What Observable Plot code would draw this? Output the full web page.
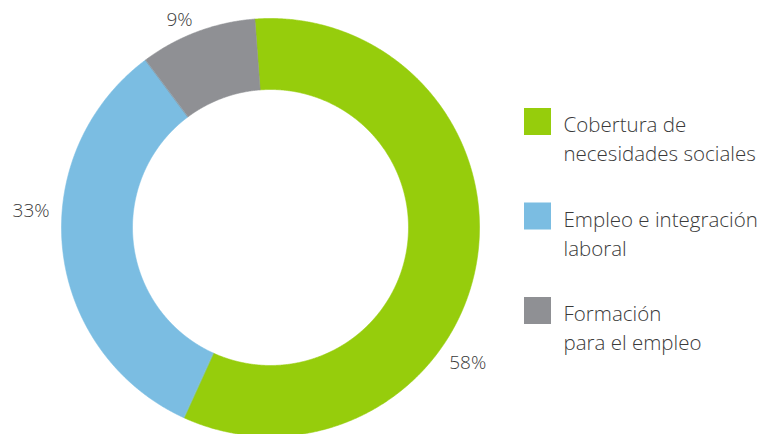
<!DOCTYPE html>
<html><head><meta charset="utf-8">
<script src="https://cdn.jsdelivr.net/npm/d3@7"></script>
<script src="https://cdn.jsdelivr.net/npm/@observablehq/plot@0.6"></script>
<style>html,body{margin:0;padding:0;background:#fff} svg{display:block}</style>
</head><body><div id="chart"></div>
<script>
// ---- data ----
const categories = ["Cobertura de necesidades sociales", "Empleo e integración laboral", "Formación para el empleo"];
const legendLines = [["Cobertura de", "necesidades sociales"], ["Empleo e integración", "laboral"], ["Formación", "para el empleo"]];
const values = [58, 33, 9];
const valueLabels = ["58%", "33%", "9%"];
const colors = ["#96cd0c", "#7bbde2", "#8f9094"];

// ---- layout ----
const W = 768, H = 434;
const cx = 270, cy = 227, rOuter = 209, rInner = 138;
const startDeg = -4.3;
const labelAngleDeg = [124.4, 274, 336.4];
const labelDist = [239, 240, 227];
const legendX1 = 524, legendSize = 27, legendTop0 = 108, legendStep = 94.5, legendTextX = 563;
const deg = Math.PI / 180;

const pie = d3.pie().sort(null).startAngle(startDeg * deg).endAngle(startDeg * deg + 2 * Math.PI)(values);

const pt = (a, r) => [cx + r * Math.sin(a), cy - r * Math.cos(a)];
const ringPts = [];
pie.forEach((s, i) => {
  const n = Math.max(2, Math.ceil((s.endAngle - s.startAngle) / (0.25 * deg)));
  for (let k = 0; k <= n; k++) {
    const a = s.startAngle + (s.endAngle - s.startAngle) * k / n;
    const [x, y] = pt(a, rOuter);
    ringPts.push({x, y, category: categories[i]});
  }
  for (let k = n; k >= 0; k--) {
    const a = s.startAngle + (s.endAngle - s.startAngle) * k / n;
    const [x, y] = pt(a, rInner);
    ringPts.push({x, y, category: categories[i]});
  }
});

const labelData = values.map((v, i) => {
  const a = labelAngleDeg[i] * deg;
  const [x, y] = pt(a, labelDist[i]);
  return {x, y, text: valueLabels[i]};
});

const legendData = categories.map((c, i) => ({
  category: c,
  y1: legendTop0 + legendStep * i,
  y2: legendTop0 + legendStep * i + legendSize,
  text: legendLines[i].join("\n")
}));

const chart = Plot.plot({
  width: W, height: H, margin: 0,
  style: {fontFamily: "'Open Sans', sans-serif", background: "#fff"},
  x: {domain: [0, W], range: [0, W], axis: null},
  y: {domain: [0, H], range: [0, H], axis: null},
  color: {domain: categories, range: colors},
  marks: [
    Plot.line(ringPts, {x: "x", y: "y", z: "category", fill: "category", stroke: "category", strokeWidth: 0.6, curve: "linear-closed"}),
    Plot.text(labelData, {x: "x", y: "y", text: "text", fontSize: 19, fontWeight: 300, fill: "#3a3a3a", textAnchor: "middle", lineAnchor: "middle"}),
    Plot.rect(legendData, {x1: legendX1, x2: legendX1 + legendSize, y1: "y1", y2: "y2", fill: "category"}),
    Plot.text(legendData, {x: legendTextX, y: d => d.y1 + 3, text: "text", fontSize: 20.5, fontWeight: 300, lineHeight: 1.42, fill: "#3a3a3a", textAnchor: "start", lineAnchor: "top"})
  ]
});
document.getElementById("chart").appendChild(chart);
</script>
</body></html>
